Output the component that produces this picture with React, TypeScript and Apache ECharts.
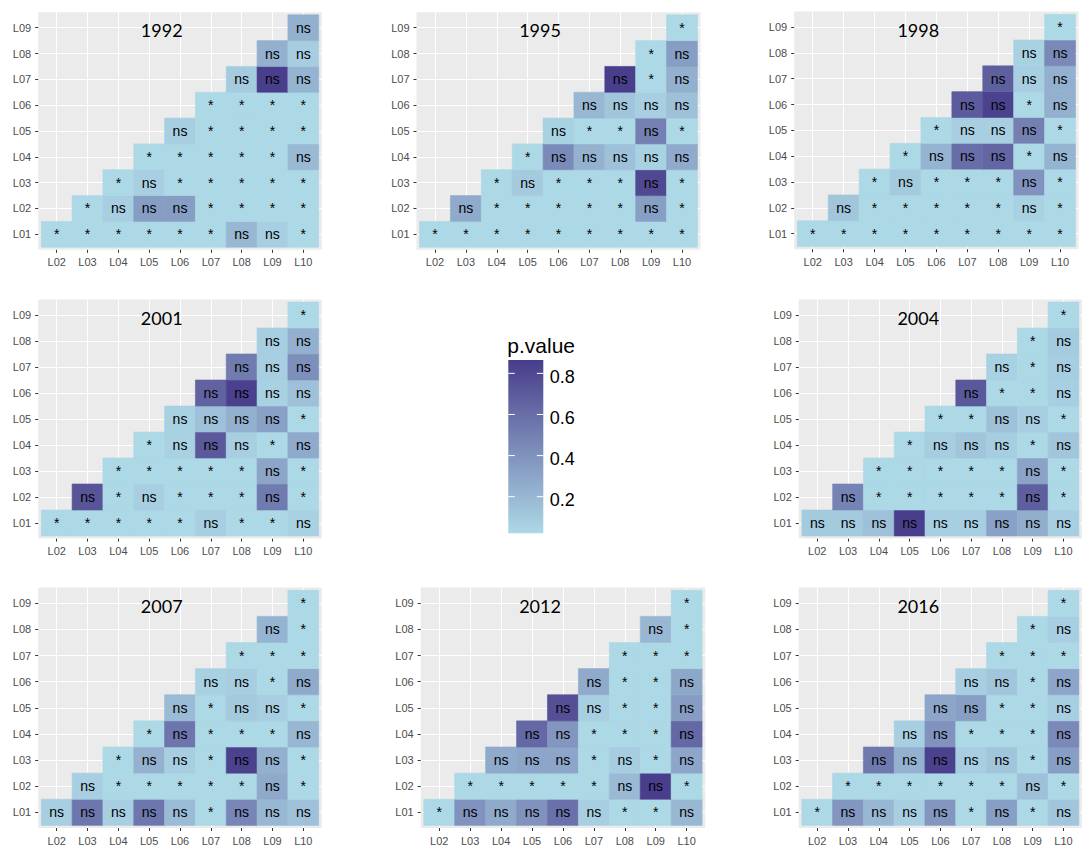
import { useEffect, useRef } from 'react';
import * as echarts from 'echarts';

// Axis categories
const xLabels = ['L02', 'L03', 'L04', 'L05', 'L06', 'L07', 'L08', 'L09', 'L10'];
const yLabels = ['L01', 'L02', 'L03', 'L04', 'L05', 'L06', 'L07', 'L08', 'L09'];
const years = ['1992', '1995', '1998', '2001', '2004', '2007', '2012', '2016'];

// Pairwise p-values. Row k is location L0(k+1); its entries run over
// the columns L(k+2) .. L10 (upper triangle only).
const p1992 = [
  [0.01, 0.01, 0.01, 0.01, 0.01, 0.01, 0.2, 0.07, 0.01],
  [0.01, 0.07, 0.34, 0.34, 0.01, 0.01, 0.01, 0.01],
  [0.01, 0.07, 0.01, 0.01, 0.01, 0.01, 0.01],
  [0.01, 0.01, 0.01, 0.01, 0.01, 0.19],
  [0.07, 0.01, 0.01, 0.01, 0.01],
  [0.01, 0.01, 0.01, 0.01],
  [0.09, 0.86, 0.22],
  [0.24, 0.08],
  [0.24],
];
const p1995 = [
  [0.01, 0.01, 0.01, 0.01, 0.01, 0.01, 0.01, 0.01, 0.01],
  [0.27, 0.01, 0.01, 0.01, 0.01, 0.01, 0.33, 0.01],
  [0.01, 0.1, 0.01, 0.01, 0.01, 0.8, 0.01],
  [0.01, 0.44, 0.23, 0.15, 0.06, 0.27],
  [0.06, 0.01, 0.01, 0.5, 0.01],
  [0.2, 0.12, 0.07, 0.15],
  [0.86, 0.01, 0.24],
  [0.01, 0.34],
  [0.01],
];
const p1998 = [
  [0.01, 0.01, 0.01, 0.01, 0.01, 0.01, 0.01, 0.01, 0.01],
  [0.12, 0.01, 0.01, 0.01, 0.01, 0.01, 0.06, 0.01],
  [0.01, 0.1, 0.01, 0.01, 0.01, 0.4, 0.01],
  [0.01, 0.22, 0.6, 0.64, 0.01, 0.22],
  [0.01, 0.07, 0.07, 0.5, 0.01],
  [0.7, 0.84, 0.01, 0.24],
  [0.68, 0.07, 0.24],
  [0.06, 0.45],
  [0.01],
];
const p2001 = [
  [0.01, 0.01, 0.01, 0.01, 0.01, 0.07, 0.01, 0.01, 0.06],
  [0.74, 0.01, 0.07, 0.01, 0.01, 0.01, 0.53, 0.01],
  [0.01, 0.01, 0.01, 0.01, 0.01, 0.3, 0.01],
  [0.01, 0.06, 0.71, 0.07, 0.01, 0.27],
  [0.06, 0.15, 0.24, 0.32, 0.01],
  [0.66, 0.85, 0.06, 0.15],
  [0.53, 0.07, 0.42],
  [0.07, 0.24],
  [0.01],
];
const p2004 = [
  [0.1, 0.1, 0.15, 0.86, 0.07, 0.07, 0.32, 0.25, 0.07],
  [0.48, 0.01, 0.01, 0.01, 0.01, 0.01, 0.68, 0.01],
  [0.01, 0.01, 0.01, 0.01, 0.01, 0.31, 0.01],
  [0.01, 0.08, 0.12, 0.08, 0.01, 0.12],
  [0.01, 0.01, 0.15, 0.07, 0.01],
  [0.72, 0.01, 0.01, 0.07],
  [0.06, 0.01, 0.08],
  [0.01, 0.09],
  [0.01],
];
const p2007 = [
  [0.07, 0.55, 0.07, 0.55, 0.18, 0.01, 0.47, 0.2, 0.15],
  [0.07, 0.01, 0.01, 0.01, 0.01, 0.01, 0.28, 0.01],
  [0.01, 0.23, 0.07, 0.01, 0.84, 0.24, 0.01],
  [0.01, 0.56, 0.01, 0.01, 0.01, 0.2],
  [0.18, 0.01, 0.1, 0.07, 0.01],
  [0.06, 0.08, 0.01, 0.27],
  [0.01, 0.01, 0.01],
  [0.22, 0.01],
  [0.01],
];
const p2012 = [
  [0.01, 0.4, 0.27, 0.4, 0.58, 0.07, 0.01, 0.01, 0.2],
  [0.01, 0.01, 0.01, 0.01, 0.01, 0.19, 0.86, 0.01],
  [0.27, 0.3, 0.3, 0.01, 0.08, 0.01, 0.3],
  [0.63, 0.38, 0.01, 0.01, 0.01, 0.63],
  [0.76, 0.07, 0.01, 0.01, 0.35],
  [0.27, 0.01, 0.01, 0.29],
  [0.01, 0.01, 0.01],
  [0.2, 0.01],
  [0.01],
];
const p2016 = [
  [0.01, 0.38, 0.2, 0.07, 0.38, 0.01, 0.33, 0.01, 0.12],
  [0.01, 0.01, 0.01, 0.01, 0.01, 0.01, 0.15, 0.01],
  [0.54, 0.23, 0.84, 0.07, 0.12, 0.01, 0.33],
  [0.07, 0.4, 0.01, 0.01, 0.01, 0.45],
  [0.3, 0.33, 0.01, 0.01, 0.07],
  [0.07, 0.12, 0.01, 0.3],
  [0.01, 0.01, 0.01],
  [0.01, 0.07],
  [0.01],
];
const pValues = [p1992, p1995, p1998, p2001, p2004, p2007, p2012, p2016];

// Colour scale
const legendTicks = [0.2, 0.4, 0.6, 0.8];
const scaleMin = 0.022;
const scaleMax = 0.865;
const lowRGB = [173, 216, 230];
const highRGB = [72, 61, 139];
const alpha = 0.05;

// Panel placement (grey plotting area of each panel)
const panels = [
  { left: 38.2, top: 12.2, width: 283.6, height: 237.6, tx: 161.7, ty: 30 },
  { left: 416.5, top: 12.2, width: 284, height: 237.6, tx: 540, ty: 30 },
  { left: 794.2, top: 11.6, width: 284.4, height: 237.6, tx: 918.3, ty: 30 },
  { left: 38.2, top: 299.4, width: 283.6, height: 239.2, tx: 161.7, ty: 318.3 },
  { left: 798.8, top: 299.4, width: 284, height: 239.2, tx: 918.3, ty: 318.3 },
  { left: 38.2, top: 587.6, width: 283.6, height: 241.1, tx: 161.7, ty: 605.7 },
  { left: 420.7, top: 587.6, width: 284.5, height: 241.1, tx: 540, ty: 605.7 },
  { left: 798.7, top: 587.6, width: 284.8, height: 241.1, tx: 918.3, ty: 605.7 },
];
const legendBar = { x: 508.3, y: 360, w: 35, h: 173.3 };

const fillFor = (p: number) => {
  const t = Math.max(0, Math.min(1, (p - scaleMin) / (scaleMax - scaleMin)));
  const c = lowRGB.map((lo, i) => Math.round(lo + (highRGB[i] - lo) * t));
  return `rgb(${c[0]},${c[1]},${c[2]})`;
};

const toTriples = (rows: number[][]) => {
  const out: number[][] = [];
  rows.forEach((row, r) => row.forEach((p, j) => out.push([r + j, r, p])));
  return out;
};

const AXIS_FONT = '"Liberation Sans", Arial, sans-serif';
const idx = xLabels.map((_, i) => i);

export default function App() {
  const ref = useRef<HTMLDivElement>(null);

  useEffect(() => {
    document.body.style.margin = '0';
    if (!ref.current) return;
    const chart = echarts.init(ref.current, undefined, { renderer: 'svg' });

    const grid = panels.map((b) => ({
      left: b.left,
      top: b.top,
      width: b.width,
      height: b.height,
      show: true,
      backgroundColor: '#EBEBEB',
      borderWidth: 0,
    }));

    const axisCommon = {
      type: 'value' as const,
      min: -0.6,
      max: 8.6,
      axisLine: { show: false, onZero: false },
      axisTick: {
        show: true,
        length: 3,
        customValues: idx,
        lineStyle: { color: '#333333', width: 1 },
      },
      splitLine: { show: true, lineStyle: { color: '#FFFFFF', width: 1.1 } },
    };

    const xAxis = panels.map((_, i) => ({
      ...axisCommon,
      gridIndex: i,
      position: 'bottom',
      axisLabel: {
        customValues: idx,
        formatter: (v: number) => xLabels[Math.round(v)],
        color: '#4D4D4D',
        fontSize: 11,
        fontFamily: AXIS_FONT,
        margin: 7,
      },
    }));
    const yAxis = panels.map((_, i) => ({
      ...axisCommon,
      gridIndex: i,
      position: 'left',
      axisLabel: {
        customValues: idx,
        formatter: (v: number) => yLabels[Math.round(v)],
        color: '#4D4D4D',
        fontSize: 11,
        fontFamily: AXIS_FONT,
        margin: 7,
      },
    }));

    const series = pValues.map((rows, i) => ({
      type: 'custom',
      name: years[i],
      xAxisIndex: i,
      yAxisIndex: i,
      silent: true,
      data: toTriples(rows),
      renderItem: (_params: any, api: any) => {
        const x = api.value(0);
        const y = api.value(1);
        const p = api.value(2);
        const c = api.coord([x, y]);
        const s = api.size([1, 1]);
        const fill = fillFor(p);
        return {
          type: 'group',
          children: [
            {
              type: 'rect',
              shape: { x: c[0] - s[0] / 2, y: c[1] - s[1] / 2, width: s[0], height: s[1] },
              style: { fill, stroke: fill, lineWidth: 0.6 },
            },
            {
              type: 'text',
              x: c[0],
              y: c[1],
              style: {
                text: p < alpha ? '*' : 'ns',
                fill: '#000000',
                fontSize: 14,
                fontFamily: AXIS_FONT,
                align: 'center',
                verticalAlign: 'middle',
              },
            },
          ],
        };
      },
    }));

    const legendY = (v: number) =>
      legendBar.y + legendBar.h * (1 - (v - scaleMin) / (scaleMax - scaleMin));

    const graphic: any[] = [];
    panels.forEach((b, i) => {
      graphic.push({
        type: 'text',
        x: b.tx,
        y: b.ty,
        z: 10,
        style: {
          text: years[i],
          fill: '#000000',
          fontSize: 18,
          fontFamily: 'Lato, "Open Sans", sans-serif',
          align: 'center',
          verticalAlign: 'middle',
        },
      });
    });

    graphic.push({
      type: 'text',
      x: legendBar.x - 1,
      y: 345,
      style: {
        text: 'p.value',
        fill: '#000000',
        fontSize: 21,
        fontFamily: AXIS_FONT,
        align: 'left',
        verticalAlign: 'middle',
      },
    });
    graphic.push({
      type: 'rect',
      shape: { x: legendBar.x, y: legendBar.y, width: legendBar.w, height: legendBar.h },
      style: {
        fill: new echarts.graphic.LinearGradient(0, 1, 0, 0, [
          { offset: 0, color: fillFor(scaleMin) },
          { offset: 1, color: fillFor(scaleMax) },
        ]),
      },
    });
    legendTicks.forEach((v) => {
      const y = legendY(v);
      graphic.push({
        type: 'line',
        shape: { x1: legendBar.x, y1: y, x2: legendBar.x + 6.5, y2: y },
        style: { stroke: '#FFFFFF', lineWidth: 1 },
        z: 5,
      });
      graphic.push({
        type: 'line',
        shape: { x1: legendBar.x + legendBar.w - 6.5, y1: y, x2: legendBar.x + legendBar.w, y2: y },
        style: { stroke: '#FFFFFF', lineWidth: 1 },
        z: 5,
      });
      graphic.push({
        type: 'text',
        x: legendBar.x + legendBar.w + 6.5,
        y: y + 3.5,
        style: {
          text: v.toFixed(1),
          fill: '#000000',
          fontSize: 18,
          fontFamily: AXIS_FONT,
          align: 'left',
          verticalAlign: 'middle',
        },
      });
    });

    chart.setOption({
      animation: false,
      backgroundColor: '#FFFFFF',
      grid,
      xAxis,
      yAxis,
      series,
      graphic,
    });

    return () => chart.dispose();
  }, []);

  return <div ref={ref} style={{ width: 1082, height: 846 }} />;
}
